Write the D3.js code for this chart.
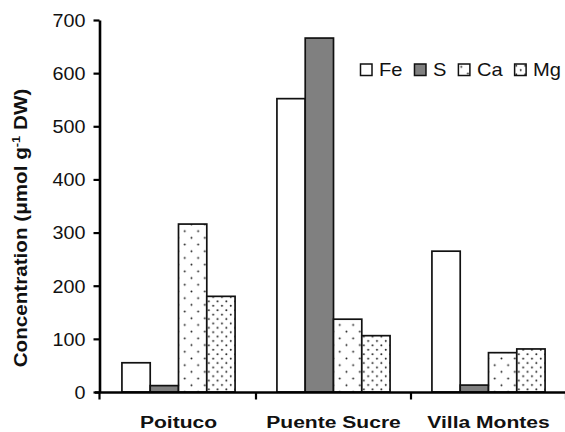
<!DOCTYPE html>
<html>
<head>
<meta charset="utf-8">
<script src="https://cdn.jsdelivr.net/npm/d3@7"></script>
<style>
  html, body { margin: 0; padding: 0; background: #fff; }
  svg { display: block; font-family: "Liberation Sans", Arial, Helvetica, sans-serif; }
</style>
</head>
<body>
<svg id="chart" width="565" height="432"></svg>
<script>
// Element concentrations at the three sites
const sites = ["Poituco", "Puente Sucre", "Villa Montes"];
const elements = ["Fe", "S", "Ca", "Mg"];
const fe = [55, 552, 265];
const s  = [12, 666, 13];
const ca = [316, 137, 74];
const mg = [180, 106, 81];
const yTicks = [0, 100, 200, 300, 400, 500, 600, 700];

const seriesValues = { Fe: fe, S: s, Ca: ca, Mg: mg };
const rows = sites.map((site, i) => ({
  site,
  values: elements.map(el => ({ el, v: seriesValues[el][i] }))
}));

const svg = d3.select("#chart");
const defs = svg.append("defs");

// Fill patterns: sparse dots for Ca, dense dots for Mg
function dotPattern(id, size, r) {
  const p = defs.append("pattern").attr("id", id)
    .attr("patternUnits", "userSpaceOnUse")
    .attr("width", size).attr("height", size);
  p.append("rect").attr("width", size).attr("height", size).attr("fill", "#fff");
  p.append("circle").attr("cx", size * 0.25).attr("cy", size * 0.25).attr("r", r).attr("fill", "#1a1a1a");
  p.append("circle").attr("cx", size * 0.75).attr("cy", size * 0.75).attr("r", r).attr("fill", "#1a1a1a");
}
dotPattern("dotsCa", 13.4, 0.95);
dotPattern("dotsMg", 8.8, 0.95);

const fills = { Fe: "#ffffff", S: "#808080", Ca: "url(#dotsCa)", Mg: "url(#dotsMg)" };

const x0 = d3.scaleBand().domain(sites).range([101, 566]).paddingInner(0).paddingOuter(0);
const x1 = d3.scaleBand().domain(elements).range([0, x0.bandwidth()])
  .paddingInner(0).paddingOuter(0.74);
const y = d3.scaleLinear().domain([0, 700]).range([392, 20]);

// Horizontal stretch helper for wide lettering
function stretch(sel, k) {
  sel.each(function () {
    const t = d3.select(this);
    const tx = +t.attr("data-x") || 0, ty = +t.attr("data-y") || 0;
    t.attr("transform", `translate(${tx},${ty}) scale(${k},1)`);
  });
}

// Bars
const groups = svg.append("g").selectAll("g").data(rows).join("g")
  .attr("transform", d => `translate(${x0(d.site)},0)`);
groups.selectAll("rect").data(d => d.values).join("rect")
  .attr("x", d => x1(d.el))
  .attr("y", d => y(d.v))
  .attr("width", x1.bandwidth())
  .attr("height", d => y(0) - y(d.v))
  .attr("fill", d => fills[d.el])
  .attr("stroke", "#111")
  .attr("stroke-width", 1.7);

// Y axis
const yAxis = svg.append("g").attr("transform", "translate(99.5,0)")
  .call(d3.axisLeft(y).tickValues(yTicks).tickSize(6).tickSizeOuter(0).tickPadding(0));
yAxis.select(".domain").attr("stroke", "#000").attr("stroke-width", 2.6);
yAxis.selectAll(".tick line").attr("stroke", "#000").attr("stroke-width", 2.2);
yAxis.selectAll(".tick text")
  .attr("x", null).attr("dy", "0.36em")
  .attr("data-x", -14).attr("data-y", 0)
  .attr("font-size", 17.5).attr("fill", "#111")
  .attr("font-family", "Liberation Sans, Arial, sans-serif")
  .call(stretch, 1.13);

// X axis
const xAxis = svg.append("g").attr("transform", "translate(0,392.5)")
  .call(d3.axisBottom(x0).tickSize(0).tickSizeOuter(0).tickPadding(0));
xAxis.select(".domain").attr("stroke", "#000").attr("stroke-width", 2.6)
  .attr("d", "M95,0H566");
xAxis.selectAll(".tick text")
  .attr("y", null).attr("dy", null)
  .attr("data-x", 0).attr("data-y", 35.5)
  .attr("font-size", 17).attr("font-weight", "bold").attr("fill", "#111")
  .attr("font-family", "Liberation Sans, Arial, sans-serif")
  .call(stretch, 1.24);
// Separator ticks between sites
const bounds = sites.map(d => x0(d)).concat([x0.range()[1]]);
xAxis.selectAll("line.sep").data(bounds).join("line").attr("class", "sep")
  .attr("x1", d => d === bounds[0] ? 99.5 : d).attr("x2", d => d === bounds[0] ? 99.5 : d)
  .attr("y1", 0).attr("y2", 7)
  .attr("stroke", "#000").attr("stroke-width", 2.2);

// Y axis title
const title = svg.append("text")
  .attr("text-anchor", "middle")
  .attr("font-size", 17.5).attr("font-weight", "bold").attr("fill", "#111")
  .attr("transform", "translate(26.5,228) rotate(-90) scale(1.18,1)");
title.append("tspan").text("Concentration (μmol g");
title.append("tspan").attr("font-size", 11).attr("dy", -7).text("-1");
title.append("tspan").attr("dy", 7).text(" DW)");

// Legend
const legend = svg.append("g").attr("transform", "translate(360,63.5)");
let lx = 0;
elements.forEach(el => {
  const item = legend.append("g").attr("transform", `translate(${lx},0)`);
  item.append("rect").attr("x", 0.5).attr("y", 0.5).attr("width", 11.5).attr("height", 11.5)
    .attr("fill", fills[el]).attr("stroke", "#111").attr("stroke-width", 1.5);
  const t = item.append("text")
    .attr("data-x", 19).attr("data-y", 12.5)
    .attr("font-size", 17.5).attr("fill", "#111").text(el)
    .call(stretch, 1.15);
  const w = t.node().getComputedTextLength() * 1.15;
  lx += 19 + w + 11.5;
});
</script>
</body>
</html>
